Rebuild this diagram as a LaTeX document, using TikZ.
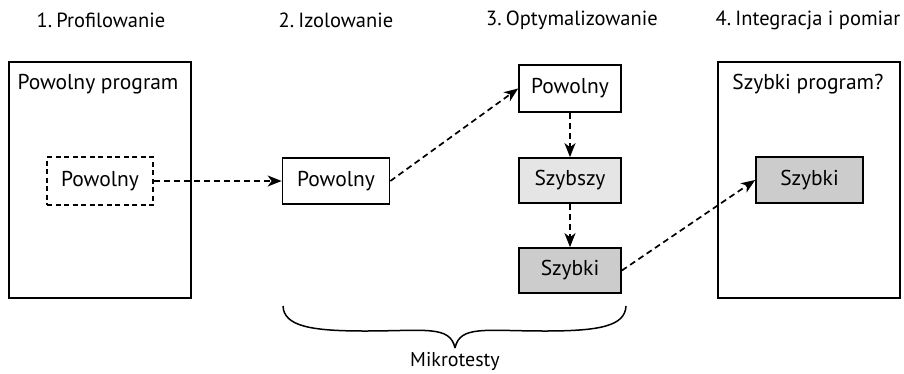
\documentclass[tikz,border=0pt]{standalone}
\usepackage{fontspec}
\setmainfont{PT Sans}
\usetikzlibrary{arrows.meta}
\begin{document}
\begin{tikzpicture}[x=1pt,y=-1pt,
  lbl/.style={font=\fontsize{21.5}{24}\selectfont, inner sep=0pt},
  ttl/.style={font=\fontsize{20.5}{23}\selectfont, inner sep=0pt},
  box/.style={draw, line width=1.7pt, minimum width=107pt, minimum height=46pt, font=\fontsize{21.5}{24}\selectfont, inner sep=0pt},
  bigbox/.style={draw, line width=1.7pt, minimum width=182pt, minimum height=236pt},
  dbox/.style={box, dashed, dash pattern=on 5pt off 3.5pt, line width=1.5pt},
  arr/.style={line width=1.7pt, dash pattern=on 6pt off 4pt, -{Stealth[length=14pt,width=11pt,inset=4pt]}},
  slow/.style={fill=white},
  faster/.style={fill=black!10},
  fast/.style={fill=black!20}]
\useasboundingbox (0,0) rectangle (904,373);
% titles
\node[ttl] (t1) at (101,20) {1.\hspace{0.2em}Profilowanie};
\node[ttl] (t2) at (336,20) {2.\hspace{0.2em}Izolowanie};
\node[ttl] (t3) at (572,20) {3.\hspace{0.2em}Optymalizowanie};
\node[ttl] (t4) at (808,20) {4.\hspace{0.2em}Integracja i pomiar};
% big boxes
\node[bigbox] (p1) at (100,180) {};
\node[lbl] (p1t) at (98,84) {Powolny program};
\node[bigbox] (p4) at (809,180) {};
\node[lbl] (p4t) at (808,84) {Szybki program?};
% inner boxes
\node[dbox, minimum width=106pt, minimum height=48pt] (d1) at (100,181) {Powolny};
\node[box, slow] (b2) at (336,181) {Powolny};
\node[box, slow, minimum width=102pt, minimum height=47pt] (b3) at (570,88.5) {Powolny};
\node[box, faster, minimum width=102pt, minimum height=45pt] (b4) at (570,180.5) {Szybszy};
\node[box, fast, minimum width=102pt, minimum height=45pt] (b5) at (570,270.5) {Szybki};
\node[box, fast, minimum width=107pt, minimum height=46pt] (b6) at (809.5,180) {Szybki};
% arrows
\draw[arr] (d1.east) -- (b2.west);
\draw[arr] (b2.east) -- (b3.west);
\draw[arr] (b3.south) -- (b4.north);
\draw[arr] (b4.south) -- (b5.north);
\draw[arr] (b5.east) -- (b6.west);
% brace
\coordinate (bl) at (283,306);
\coordinate (br) at (626,306);
\coordinate (bt) at (455,348);
\draw[line width=1.5pt]
  (bl) .. controls (284,326) and (310,331) .. (365,331)
       .. controls (425,331) and (450,325) .. (bt)
  (br) .. controls (625,326) and (600,331) .. (545,331)
       .. controls (485,331) and (460,325) .. (bt);
\node[lbl, font=\fontsize{20}{23}\selectfont] (mk) at (455,361) {Mikrotesty};
\end{tikzpicture}
\end{document}
